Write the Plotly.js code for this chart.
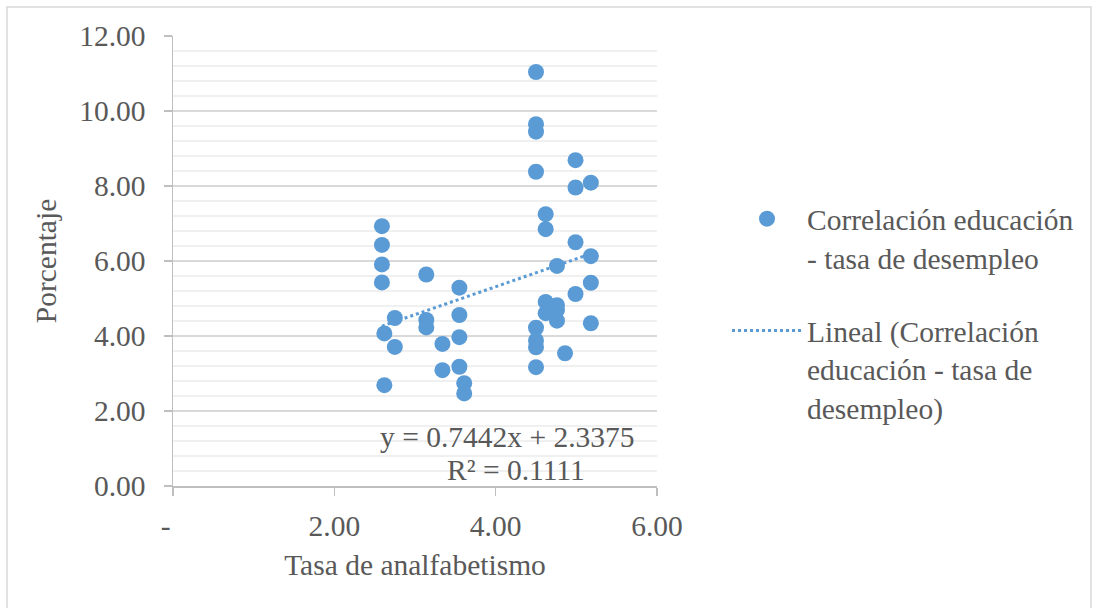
<!DOCTYPE html>
<html>
<head>
<meta charset="utf-8">
<script src="https://cdn.plot.ly/plotly-3.0.1.min.js"></script>
<style>
  html, body { margin: 0; padding: 0; background: #ffffff; }
  #chart { width: 1098px; height: 608px; }
</style>
</head>
<body>
<div id="chart"></div>
<script>
// ---- Data ----
var tasaAnalfabetismo = [
  2.59, 2.59, 2.59, 2.59,
  2.62, 2.62,
  2.75, 2.75,
  3.14, 3.14, 3.14,
  3.34, 3.34,
  3.55, 3.55, 3.55, 3.55,
  3.61, 3.61,
  4.50, 4.50, 4.50, 4.50, 4.50, 4.50, 4.50, 4.50,
  4.62, 4.62, 4.62, 4.62,
  4.76, 4.76, 4.76, 4.76,
  4.86,
  4.99, 4.99, 4.99, 4.99,
  5.18, 5.18, 5.18, 5.18
];
var porcentaje = [
  6.93, 6.43, 5.91, 5.43,
  4.07, 2.69,
  4.48, 3.71,
  5.64, 4.43, 4.23,
  3.79, 3.09,
  5.29, 4.56, 3.97, 3.18,
  2.74, 2.47,
  11.04, 9.65, 9.45, 8.38, 4.22, 3.88, 3.70, 3.17,
  7.25, 6.85, 4.91, 4.61,
  5.87, 4.82, 4.69, 4.41,
  3.54,
  8.69, 7.96, 6.50, 5.12,
  8.09, 6.13, 5.42, 4.34
];
var trendSlope = [0.7442];
var trendIntercept = [2.3375];
var trendRSquared = [0.1111];
var xTickValues = [0, 2, 4, 6];
var xTickLabels = ["-\u00a0\u00a0", "2.00", "4.00", "6.00"];
var seriesName = "Correlación educación<br>- tasa de desempleo";
var trendName = "Lineal (Correlación<br>educación - tasa de<br>desempleo)";
var xTitle = "Tasa de analfabetismo";
var yTitle = "Porcentaje";

// ---- Trend line from the regression coefficients over the data range ----
var xMin = Math.min.apply(null, tasaAnalfabetismo);
var xMax = Math.max.apply(null, tasaAnalfabetismo);
var trendX = [xMin, xMax];
var trendY = trendX.map(function (v) { return trendSlope[0] * v + trendIntercept[0]; });

var BLUE = '#5b9bd5';
var TXT = '#595959';
var FONT = 'Liberation Serif, Times New Roman, DejaVu Serif, serif';
var FS = 29.5;

var traces = [
  {
    type: 'scatter', mode: 'markers',
    x: tasaAnalfabetismo, y: porcentaje,
    name: seriesName, legendgroup: 'a',
    marker: { color: BLUE, size: 16, line: { width: 0 } },
    hoverinfo: 'x+y'
  },
  {
    type: 'scatter', mode: 'lines',
    x: trendX, y: trendY,
    name: trendName, legendgroup: 'b',
    line: { color: BLUE, width: 3, dash: 'dot' },
    hoverinfo: 'skip'
  }
];

var L = 173, R = 657, T = 36, B = 486, W = 1098, H = 608;
function px2x(p) { return (p - L) / (R - L); }
function py2y(p) { return (B - p) / (B - T); }

var layout = {
  width: W, height: H,
  margin: { l: L, r: W - R, t: T, b: H - B, pad: 0 },
  paper_bgcolor: '#ffffff', plot_bgcolor: '#ffffff',
  font: { family: FONT, size: FS, color: TXT },
  showlegend: true,
  legend: {
    x: px2x(727), y: py2y(193), xanchor: 'left', yanchor: 'top',
    valign: 'top', tracegroupgap: 32, itemwidth: 70,
    font: { family: FONT, size: FS, color: TXT },
    bgcolor: 'rgba(0,0,0,0)'
  },
  xaxis: {
    range: [0, 6], tickvals: xTickValues, ticktext: xTickLabels,
    showgrid: false, zeroline: false,
    showline: true, linecolor: '#bfbfbf', linewidth: 1.5,
    ticks: 'outside', ticklen: 8, tickcolor: '#bfbfbf', tickwidth: 1.5,
    tickfont: { family: FONT, size: FS, color: TXT },
    ticklabelstandoff: 5,
    title: { text: xTitle, font: { family: FONT, size: FS, color: TXT }, standoff: 13 },
    fixedrange: true
  },
  yaxis: {
    range: [0, 12], dtick: 2, tick0: 0, tickformat: '.2f',
    showgrid: true, gridcolor: '#d9d9d9', gridwidth: 1.5,
    zeroline: false,
    showline: true, linecolor: '#bfbfbf', linewidth: 1.5,
    ticks: 'outside', ticklen: 8, tickcolor: '#bfbfbf', tickwidth: 1.5,
    tickfont: { family: FONT, size: FS, color: TXT },
    ticklabelstandoff: 12,
    minor: { dtick: 0.4, showgrid: true, gridcolor: '#f0f0f0', gridwidth: 1.5, ticks: '' },
    title: { text: yTitle, font: { family: FONT, size: FS, color: TXT }, standoff: 14 },
    fixedrange: true
  },
  annotations: [
    {
      xref: 'paper', yref: 'paper', x: px2x(507.5), y: py2y(437),
      xanchor: 'center', yanchor: 'middle', showarrow: false,
      text: 'y = ' + trendSlope[0].toFixed(4) + 'x + ' + trendIntercept[0].toFixed(4),
      font: { family: FONT, size: FS, color: TXT }
    },
    {
      xref: 'paper', yref: 'paper', x: px2x(516), y: py2y(470),
      xanchor: 'center', yanchor: 'middle', showarrow: false,
      text: 'R² = ' + trendRSquared[0].toFixed(4),
      font: { family: FONT, size: FS, color: TXT }
    }
  ],
  shapes: [
    {
      type: 'rect', xref: 'paper', yref: 'paper', layer: 'below',
      x0: px2x(7), x1: px2x(1091), y0: py2y(7), y1: py2y(640),
      line: { color: '#d9d9d9', width: 1.5 }, fillcolor: 'rgba(0,0,0,0)'
    }
  ]
};

Plotly.newPlot('chart', traces, layout, { displayModeBar: false, staticPlot: true });
</script>
</body>
</html>
